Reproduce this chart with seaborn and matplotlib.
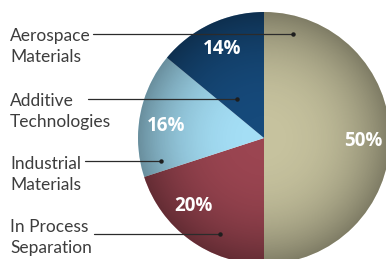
import numpy as np
import matplotlib
matplotlib.use("Agg")
import matplotlib.pyplot as plt
import seaborn as sns
from matplotlib.patches import Circle

# Data
categories = ["Aerospace\nMaterials", "Additive\nTechnologies", "Industrial\nMaterials", "In Process\nSeparation"]
shares = [50, 14, 16, 20]          # tan, dark blue, light blue, red
slice_colors = ["#c6c29e", "#164a7b", "#a4def5", "#9b4551"]

sns.set_theme(style="white")
plt.rcParams["font.family"] = ["Lato", "DejaVu Sans"]

W, H = 386, 259
fig = plt.figure(figsize=(W / 100, H / 100), dpi=100)
ax = fig.add_axes([0, 0, 1, 1])

cx, cy, R = 264, H - 138, 126

# pie order: clockwise from top -> 50, then red, light blue, dark blue
order = [0, 3, 2, 1]
vals = [shares[i] for i in order]
cols = [slice_colors[i] for i in order]
wedges, _, autotexts = ax.pie(vals, colors=cols, startangle=90, counterclock=False,
                              center=(cx, cy), radius=R, autopct="%d%%", pctdistance=0.78,
                              wedgeprops=dict(linewidth=0),
                              textprops=dict(color="white", fontsize=13.5, fontweight="bold",
                                             family=["Open Sans", "DejaVu Sans"]))

# nudge the percentage labels to where they sit in the reference (angle deg, radius fraction)
pct_pos = [(-2, 0.79), (224, 0.78), (173, 0.78), (115, 0.78)]
for t, (a, f) in zip(autotexts, pct_pos):
    t.set_position((cx + f * R * np.cos(np.radians(a)), cy + f * R * np.sin(np.radians(a))))
    t.set_va("center")
    t.set_ha("center")

# radial shading towards the rim
n = 400
gx = np.linspace(-1, 1, n)
xx, yy = np.meshgrid(gx, gx)
rr = np.clip(np.sqrt(xx ** 2 + yy ** 2), 0, 1)
shade = np.zeros((n, n, 4))
shade[..., 3] = 0.36 * rr ** 2.6
im = ax.imshow(shade, extent=(cx - R, cx + R, cy - R, cy + R), origin="lower", zorder=2)
im.set_clip_path(Circle((cx, cy), R, transform=ax.transData))
for t in autotexts:
    t.set_zorder(3)

# leader labels (pixels from top): text baseline, leader y, leader start x, dot x
baseline_y = [41, 106, 169, 232]
leader_y = [34, 99, 161, 234]
line_start = [93, 88, 85, 94]
dot_x = [293, 237, 161, 220]
for lab, b, y, x0, x1 in zip(categories, baseline_y, leader_y, line_start, dot_x):
    first, second = lab.split("\n")
    ax.text(10, H - b, first, ha="left", va="baseline", fontsize=12.5, color="#3d3d3d", zorder=4)
    ax.text(10, H - b - 21, second, ha="left", va="baseline", fontsize=12.5, color="#3d3d3d", zorder=4)
    ax.plot([x0, x1], [H - y, H - y], color="#2b2b2b", lw=0.9, zorder=4)
    ax.plot([x1], [H - y], marker="o", ms=2.2, color="#1e1e1e", zorder=4)

ax.set_xlim(0, W)
ax.set_ylim(0, H)
ax.set_aspect("auto")
ax.set_axis_off()

fig.savefig("out.png", dpi=100, facecolor="white")
